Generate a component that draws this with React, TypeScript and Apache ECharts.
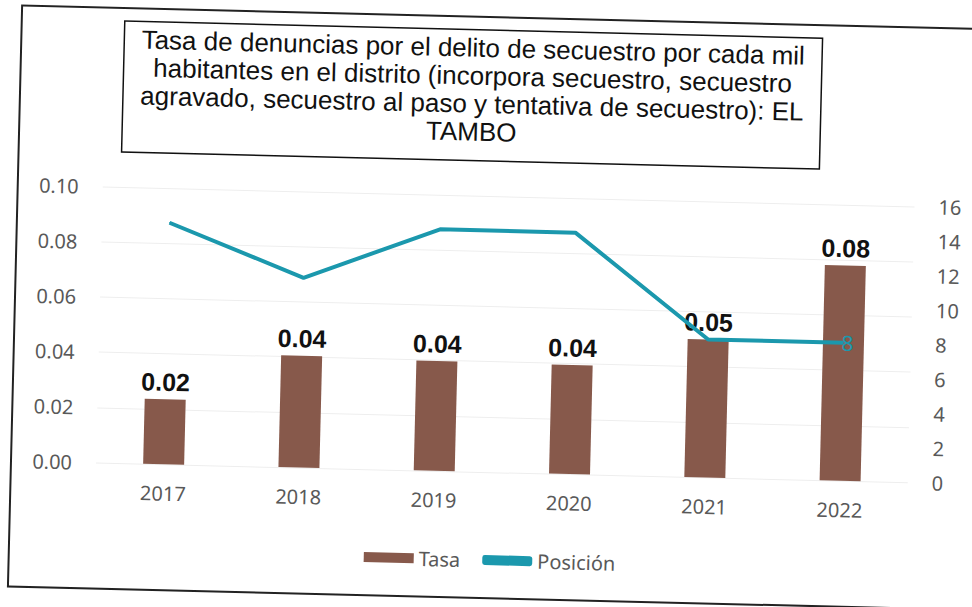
import React, { useEffect, useRef } from "react";
import * as echarts from "echarts";

const years = ["2017", "2018", "2019", "2020", "2021", "2022"];
const tasa = [0.0235, 0.0405, 0.0398, 0.0395, 0.05, 0.078];
const posicion = [14, 11, 14, 14, 8, 8];
const leftTicks = { min: 0, max: 0.1, interval: 0.02 };
const rightTicks = { min: 0, max: 16, interval: 2 };
const titleLines = [
  "Tasa de denuncias por el delito de secuestro por cada mil",
  "habitantes en el distrito (incorpora secuestro, secuestro",
  "agravado, secuestro al paso y tentativa de secuestro): EL",
  "TAMBO",
];

const BROWN = "#87594b";
const TEAL = "#1b98ad";
const GRAY = "#595959";
const FONT = "'Noto Sans', sans-serif";

export default function App() {
  const ref = useRef<HTMLDivElement>(null);
  useEffect(() => {
    document.body.style.margin = "0";
    const chart = echarts.init(ref.current!, null, { renderer: "svg" });
    const lastIdx = posicion.length - 1;
    chart.setOption({
      animation: false,
      backgroundColor: "#ffffff",
      grid: { left: 100, right: 60, top: 196, bottom: 135, containLabel: false },
      legend: {
        left: 365,
        top: 545,
        itemWidth: 50,
        itemHeight: 10,
        itemGap: 22,
        textStyle: { fontFamily: FONT, fontSize: 20, color: GRAY },
        data: [
          { name: "Tasa", icon: "rect" },
          { name: "Posición", icon: "roundRect" },
        ],
      },
      xAxis: {
        type: "category",
        data: years,
        axisLine: { show: false },
        axisTick: { show: false },
        axisLabel: { margin: 19, fontFamily: FONT, fontSize: 20, color: GRAY },
      },
      yAxis: [
        {
          type: "value",
          ...leftTicks,
          axisLine: { show: false },
          axisTick: { show: false },
          splitLine: { lineStyle: { color: "#eeeeee", width: 1 } },
          axisLabel: {
            margin: 24,
            fontFamily: FONT,
            fontSize: 20,
            color: GRAY,
            formatter: (v: number) => v.toFixed(2),
          },
        },
        {
          type: "value",
          position: "right",
          ...rightTicks,
          axisLine: { show: false },
          axisTick: { show: false },
          splitLine: { show: false },
          axisLabel: { margin: 24, fontFamily: FONT, fontSize: 20, color: GRAY },
        },
      ],
      series: [
        {
          name: "Tasa",
          type: "bar",
          data: tasa,
          barWidth: 41,
          itemStyle: { color: BROWN },
          label: {
            show: true,
            position: "top",
            distance: 5,
            fontFamily: "'Liberation Sans', Arial, sans-serif",
            fontWeight: "bold",
            fontSize: 25,
            color: "#111111",
            formatter: (p: any) => Number(p.value).toFixed(2),
          },
          z: 2,
        },
        {
          name: "Posición",
          type: "line",
          yAxisIndex: 1,
          symbol: "circle",
          symbolSize: 1,
          itemStyle: { color: TEAL },
          lineStyle: { color: TEAL, width: 4 },
          data: posicion.map((v, i) =>
            i === lastIdx
              ? {
                  value: v,
                  label: {
                    show: true,
                    position: "inside",
                    fontFamily: FONT,
                    fontSize: 21,
                    color: TEAL,
                    offset: [4, 0],
                  },
                }
              : v
          ),
          z: 3,
        },
      ],
      graphic: [
        {
          type: "rect",
          shape: { x: 15, y: 17, width: 960, height: 581 },
          style: { fill: "none", stroke: "#222222", lineWidth: 2 },
          silent: true,
        },
        {
          type: "rect",
          shape: { x: 118, y: 30, width: 698, height: 131 },
          style: { fill: "#ffffff", stroke: "#111111", lineWidth: 1.5 },
          silent: true,
        },
        {
          type: "text",
          x: 467,
          y: 34,
          style: {
            text: titleLines.join("\n"),
            fontFamily: "'Liberation Sans', Arial, sans-serif",
            fontSize: 26,
            lineHeight: 28,
            align: "center",
            verticalAlign: "top",
            fill: "#111111",
          },
          silent: true,
        },
      ],
    });
    return () => chart.dispose();
  }, []);
  return (
    <div
      style={{
        position: "fixed",
        left: 0,
        top: 0,
        width: 972,
        height: 607,
        background: "#ffffff",
        overflow: "hidden",
      }}
    >
      <div
        ref={ref}
        style={{
          width: 972,
          height: 607,
          transform: "rotate(1.4deg)",
          transformOrigin: "486px 303px",
        }}
      />
    </div>
  );
}
